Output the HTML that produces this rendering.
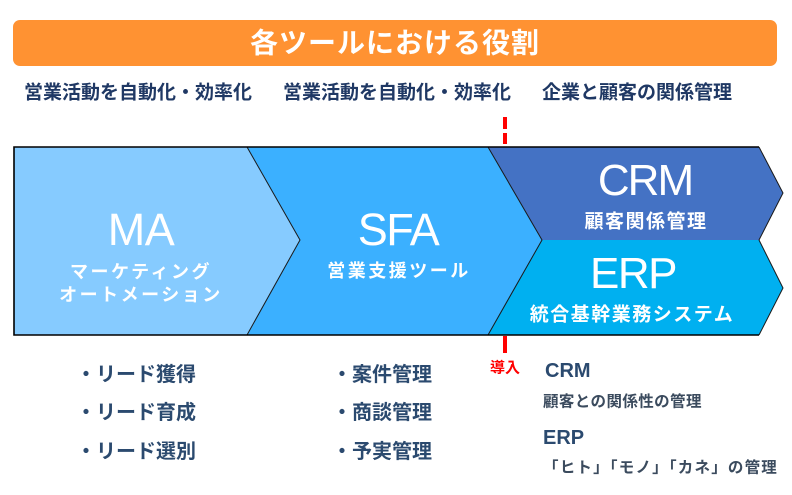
<!DOCTYPE html>
<html lang="ja">
<head>
<meta charset="utf-8">
<style>
  html,body{margin:0;padding:0;background:#fff;}
  body{width:792px;height:495px;overflow:hidden;}
  svg{display:block;}
  .jp{font-family:"Liberation Sans","Noto Sans CJK JP",sans-serif;}
</style>
</head>
<body>
<svg width="792" height="495" viewBox="0 0 792 495" xmlns="http://www.w3.org/2000/svg">
  <!-- Banner -->
  <rect x="13" y="20" width="764" height="46" rx="7" ry="7" fill="#FF9232"/>
  <text x="395" y="43" class="jp" font-size="28" font-weight="bold" fill="#fff" text-anchor="middle" dominant-baseline="central" letter-spacing="1">各ツールにおける役割</text>

  <!-- Header labels -->
  <g class="jp" font-size="19" font-weight="bold" fill="#1F3864" dominant-baseline="central">
    <text x="24" y="93">営業活動を自動化・効率化</text>
    <text x="283" y="93">営業活動を自動化・効率化</text>
    <text x="542" y="93">企業と顧客の関係管理</text>
  </g>

  <!-- Red dashes -->
  <rect x="503" y="117" width="4" height="12" fill="#FF0000"/>
  <rect x="503" y="133" width="4" height="11" fill="#FF0000"/>
  <rect x="503" y="336" width="4" height="17" fill="#FF0000"/>

  <!-- Shapes -->
  <polygon points="14,147 247,147 300,240 247,335 14,335" fill="#86CBFF"/>
  <polygon points="247,147 488,147 542,240 488,335 247,335 300,240" fill="#3BB0FF"/>
  <polygon points="488,147 759,147 783,193 759,240 542,240" fill="#4472C4"/>
  <polygon points="542,240 759,240 783,288 759,335 488,335" fill="#00B0F0"/>

  <!-- Lines -->
  <g fill="none" stroke="#1a1a1a" stroke-width="1">
    <polyline points="247,147 300,240 247,335"/>
    <polyline points="488,147 542,240 488,335"/>
    <polyline points="759,147 783,193 759,240 783,288 759,335"/>
  </g>
  <path d="M759,147 L14,147 L14,335 L759,335" fill="none" stroke="#000" stroke-width="1.6"/>

  <!-- Box labels -->
  <g font-family="Liberation Sans, DejaVu Sans, sans-serif" fill="#fff" text-anchor="middle">
    <text x="141" y="245" font-size="45" letter-spacing="-0.5">MA</text>
    <text x="398" y="245" font-size="45" letter-spacing="-1.5">SFA</text>
    <text x="645" y="195" font-size="44" letter-spacing="-2">CRM</text>
    <text x="633" y="288" font-size="44" letter-spacing="-1.5">ERP</text>
  </g>
  <g class="jp" fill="#fff" font-weight="bold" font-size="18" text-anchor="middle" dominant-baseline="central" letter-spacing="2.5">
    <text x="141" y="272">マーケティング</text>
    <text x="141" y="295">オートメーション</text>
    <text x="399" y="271">営業支援ツール</text>
  </g>
  <g class="jp" fill="#fff" font-weight="bold" font-size="19" text-anchor="middle" dominant-baseline="central" letter-spacing="1.5">
    <text x="646" y="222">顧客関係管理</text>
    <text x="632" y="315">統合基幹業務システム</text>
  </g>

  <!-- Bottom lists -->
  <g class="jp" font-size="20" font-weight="bold" fill="#2B4A6F" dominant-baseline="central">
    <text x="76" y="375">・リード獲得</text>
    <text x="76" y="413">・リード育成</text>
    <text x="76" y="452">・リード選別</text>
    <text x="332" y="375">・案件管理</text>
    <text x="332" y="413">・商談管理</text>
    <text x="332" y="452">・予実管理</text>
  </g>

  <text x="505" y="368" class="jp" font-size="15" font-weight="bold" fill="#FF0000" text-anchor="middle" dominant-baseline="central">導入</text>

  <g class="jp" fill="#2B4A6F">
    <text x="545" y="377" font-size="20" font-weight="bold">CRM</text>
    <text x="543" y="444" font-size="20" font-weight="bold">ERP</text>
  </g>
  <g class="jp" font-size="15.5" fill="#3B4B5E" dominant-baseline="central" font-weight="bold">
    <text x="543" y="402" letter-spacing="0.4">顧客との関係性の管理</text>
    <text x="543" y="468" letter-spacing="1.2">「ヒト」「モノ」「カネ」の管理</text>
  </g>
</svg>
</body>
</html>
